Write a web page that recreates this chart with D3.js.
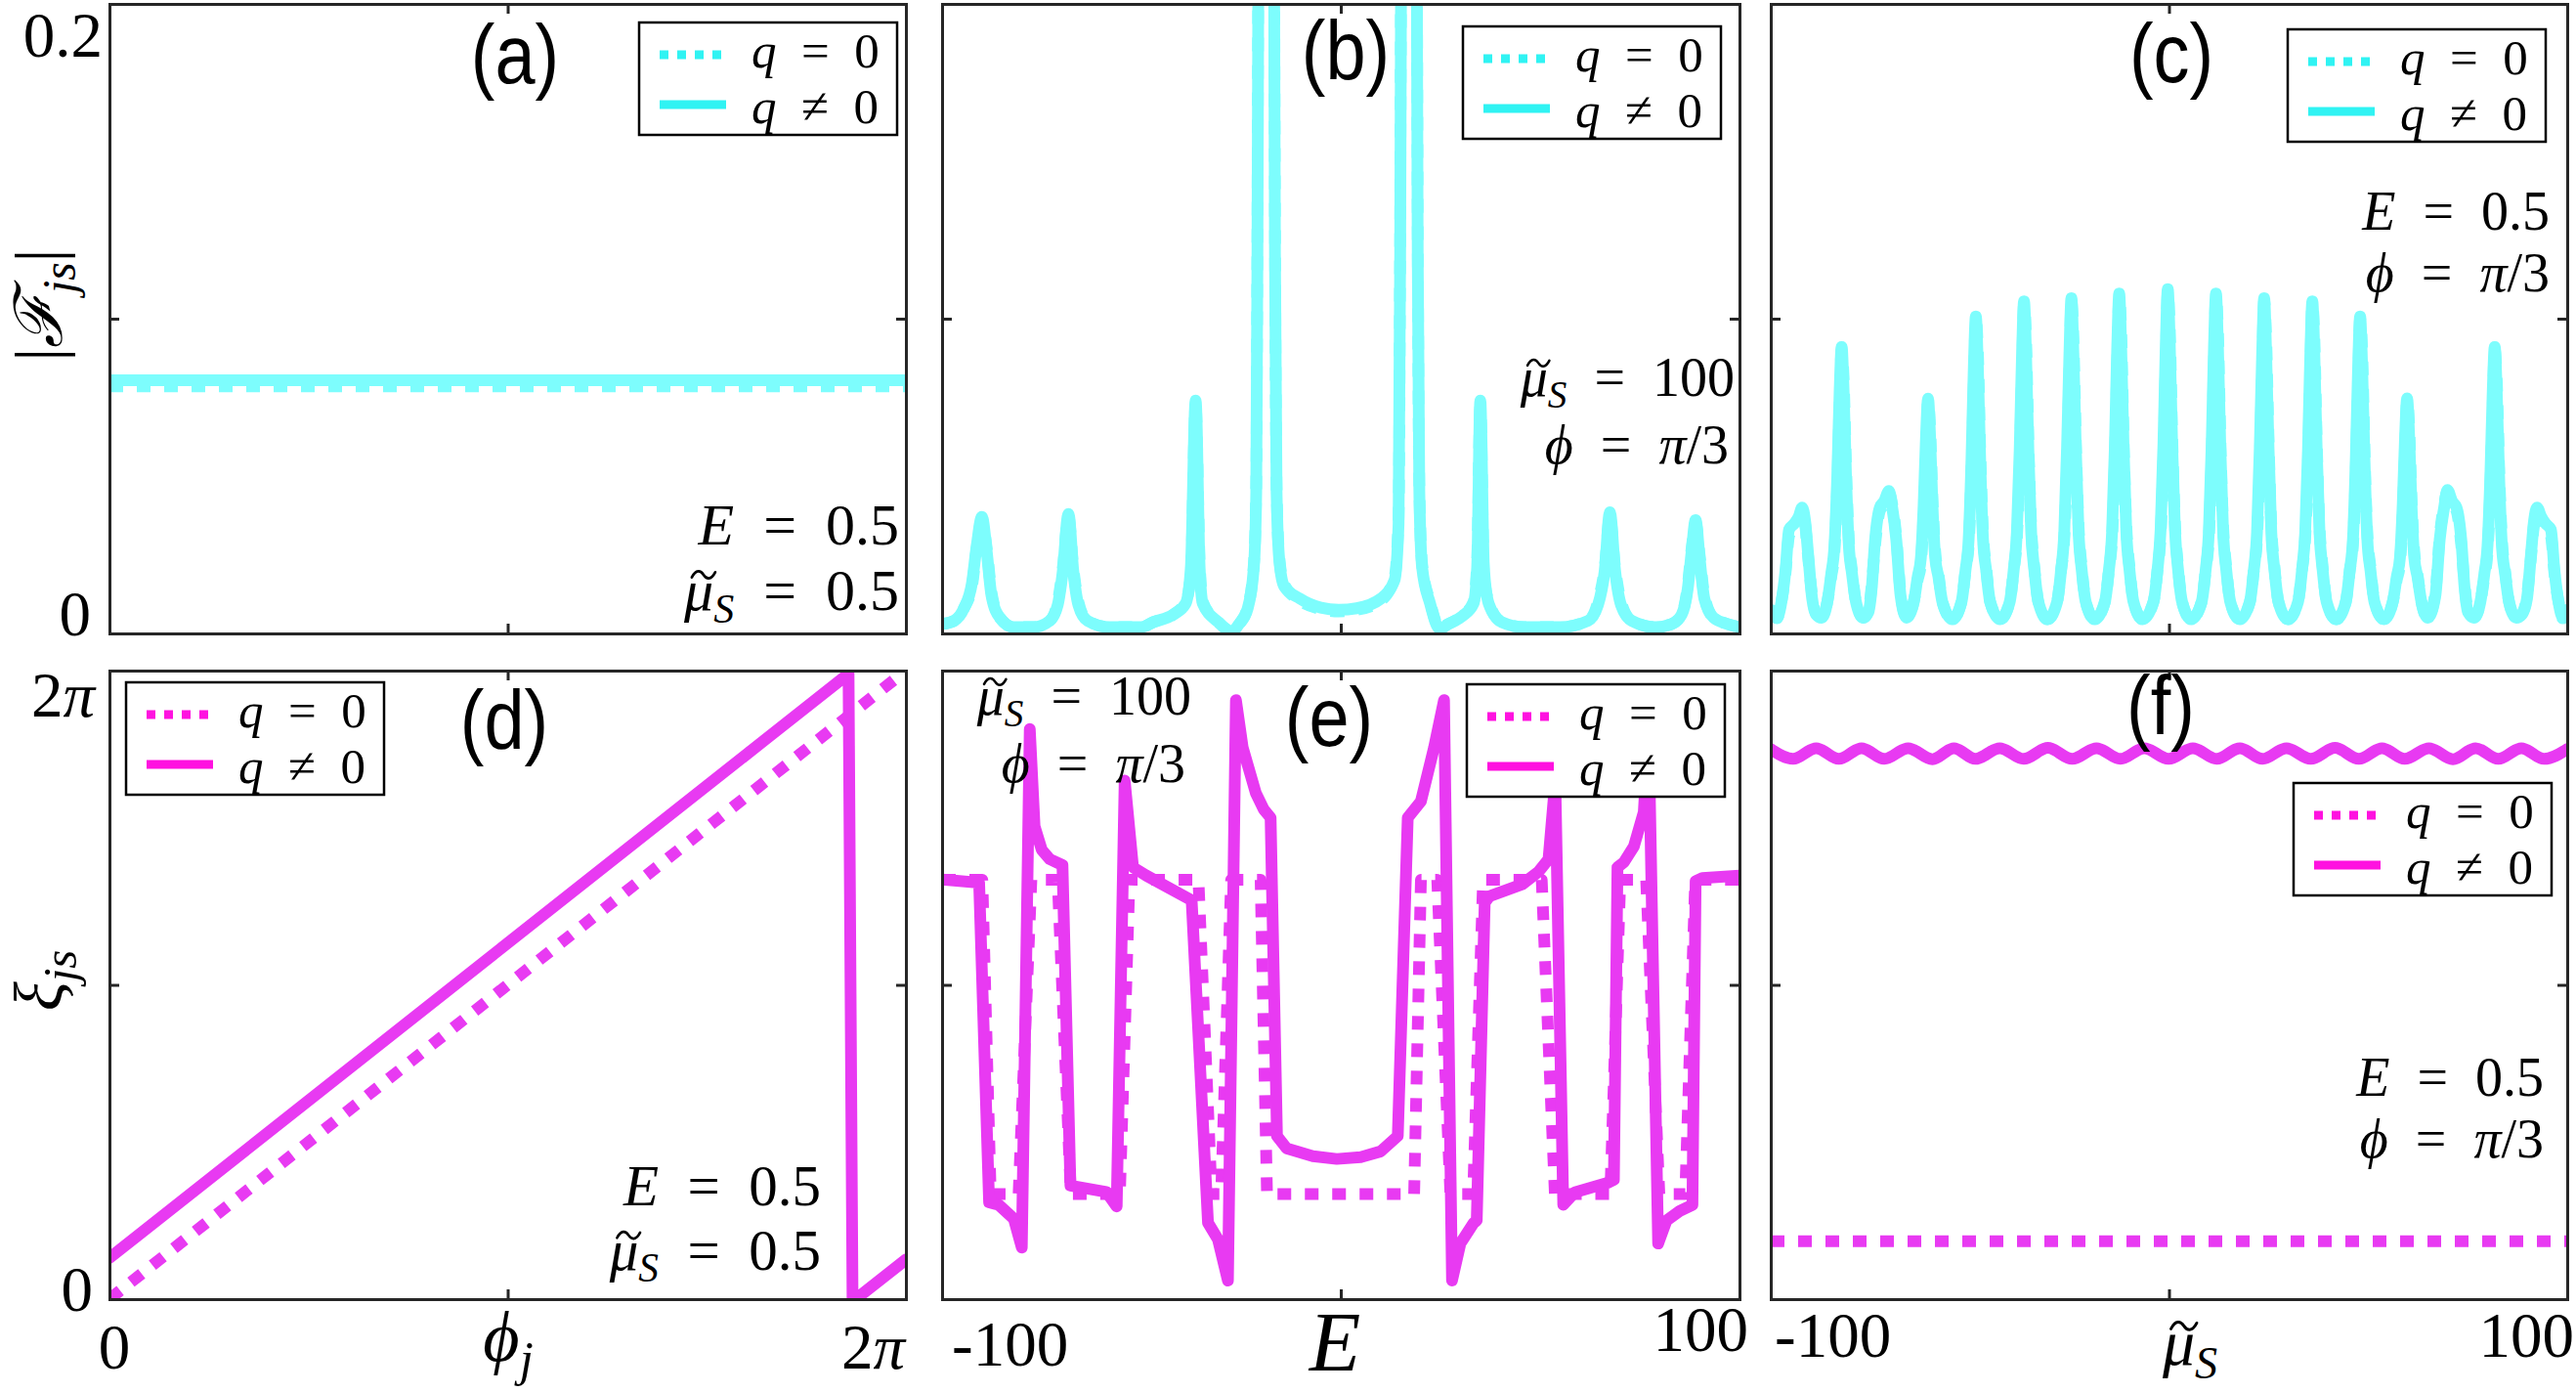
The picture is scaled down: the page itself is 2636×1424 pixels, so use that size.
<!DOCTYPE html>
<html><head><meta charset="utf-8">
<script src="https://cdn.jsdelivr.net/npm/d3@7"></script>
<style>html,body{margin:0;padding:0;background:#fff}svg{display:block}</style>
</head><body>
<svg id="c" width="2636" height="1424"></svg>
<script>
// ---------------- DATA ----------------
// (a) |F_js| vs phi_j (phi in units of pi)
const phiA = [0, 2];
const fA_q0 = [0.0785, 0.0785];
const fA_q  = [0.0804, 0.0804];

// (b) |F_js| vs E
const EB = [-100,-97,-94.5,-92.5,-91.3,-90.0,-88.8,-87.6,-85.5,-82,
  -77,-73,-71,-69.7,-68.3,-67.1,-65.8,-63.5,-58,-50,
  -47,-42,-38.9,-37.6,-36.4,-35.4,-34.6,-30.7,-27.4,-25.5,
  -23.4,-21.8,-21.2,-20.9,-20.7,-20.4,-18.7,-17.0,-16.7,-16.5,
  -16.1,-15.4,-14.2,-10.3,-5,-0.5,4,10.1,13.5,14.5,
  14.9,15.1,15.4,17.1,18.8,19.1,19.3,19.7,20.4,22.4,
  24.8,27,30.5,33.3,34.2,35.0,35.9,37.1,40.4,46,
  55,62,64.5,66.2,67.5,68.8,70.3,73,79,83,
  85.5,87.0,88.0,89.0,90.0,91.2,93.5,97,100];
const fB_q = [0.003,0.004,0.008,0.016,0.028,0.037,0.026,0.012,0.005,0.002,
  0.002,0.004,0.009,0.020,0.038,0.020,0.009,0.004,0.002,0.002,
  0.0036,0.006,0.0095,0.021,0.074,0.021,0.0095,0.0036,0.0005,0.003,
  0.0077,0.021,0.045,0.12,0.2,0.35,0.6,0.35,0.2,0.12,
  0.045,0.023,0.015,0.0111,0.0082,0.0075,0.008,0.0111,0.017,0.035,
  0.12,0.2,0.35,0.6,0.35,0.2,0.12,0.045,0.021,0.0095,
  0.0015,0.003,0.0055,0.0095,0.021,0.074,0.021,0.0095,0.0036,0.002,
  0.002,0.004,0.009,0.020,0.0385,0.020,0.009,0.004,0.002,0.003,
  0.006,0.014,0.026,0.036,0.024,0.011,0.005,0.003,0.002];
const fB_q0 = [0.003,0.004,0.008,0.015,0.027,0.036,0.027,0.013,0.005,0.002,
  0.002,0.004,0.010,0.021,0.037,0.021,0.010,0.004,0.002,0.002,
  0.0036,0.006,0.0100,0.019,0.072,0.023,0.0100,0.0036,0.0008,0.003,
  0.0080,0.022,0.047,0.13,0.21,0.35,0.6,0.35,0.21,0.13,
  0.047,0.024,0.0155,0.0105,0.0077,0.0070,0.0075,0.0105,0.018,0.037,
  0.13,0.21,0.35,0.6,0.35,0.21,0.13,0.047,0.022,0.0100,
  0.0018,0.003,0.0057,0.0100,0.023,0.072,0.019,0.0100,0.0036,0.002,
  0.002,0.004,0.010,0.021,0.0370,0.021,0.010,0.004,0.002,0.003,
  0.006,0.015,0.027,0.035,0.025,0.012,0.005,0.003,0.002];

// (c) |F_js| vs mu_S
const muC = [
  -100,-98.4,-97.5,-96.3,-95.4,-94.0,-93.0,-92.1,-91.4,-90.6,-89.6,-88.6,
  -87.2,-85.8,-84.8,-84.0,-83.3,-82.7,-82.2,-81.7,-81.1,-80.4,-79.6,-78.6,-76.8,
  -75.5,-74.6,-73.8,-72.6,-71.5,-70.3,-69.5,-68.5,-67.4,-65.9,
  -64.1,-63.1,-62.3,-61.6,-61.0,-60.5,-60.0,-59.4,-58.7,-57.9,-56.9,-54.4,
  -52.1,-51.1,-50.3,-49.6,-49.0,-48.5,-48.0,-47.4,-46.7,-45.9,-44.9,-42.4,
  -40.0,-39.0,-38.2,-37.5,-36.9,-36.4,-35.9,-35.3,-34.6,-33.8,-32.8,-30.5,
  -28.1,-27.1,-26.3,-25.6,-25.0,-24.5,-24.0,-23.4,-22.7,-21.9,-20.9,-18.6,
  -16.1,-15.1,-14.3,-13.6,-13.0,-12.5,-12.0,-11.4,-10.7,-9.9,-8.9,-6.6,
  -3.9,-2.9,-2.1,-1.4,-0.8,-0.3,0.2,0.8,1.5,2.3,3.3,5.6,
  8.2,9.2,10.0,10.7,11.3,11.8,12.3,12.9,13.6,14.4,15.4,17.8,
  20.3,21.3,22.1,22.8,23.4,23.9,24.4,25.0,25.7,26.5,27.5,29.9,
  32.4,33.4,34.2,34.9,35.5,36.0,36.5,37.1,37.8,38.6,39.6,42.0,
  44.4,45.4,46.2,46.9,47.5,48.0,48.5,49.1,49.8,50.6,51.6,54.0,
  56.2,57.2,58.0,58.7,59.3,59.8,60.3,60.9,61.6,62.4,63.4,65.0,
  66.9,68.0,69.1,69.9,71.1,72.2,73.4,74.2,75.1,76.6,
  78.2,79.2,80.0,80.7,81.3,81.8,82.3,82.9,83.6,84.4,85.4,87.2,
  88.6,89.9,90.9,91.7,92.4,93.5,94.5,95.9,96.8,98.0,98.9,100];
const fC_q = [
  0.0075,0.005,0.0087,0.020,0.033,0.035,0.037,0.040,0.036,0.025,0.011,0.006,
  0.005,0.010,0.019,0.028,0.050,0.077,0.091,0.077,0.050,0.028,0.019,0.010,0.005,
  0.0067,0.015,0.0297,0.040,0.042,0.0453,0.040,0.030,0.012,0.005,
  0.010,0.018,0.024,0.041,0.063,0.0746,0.063,0.041,0.024,0.018,0.010,0.0045,
  0.010,0.020,0.030,0.055,0.085,0.1007,0.085,0.055,0.030,0.020,0.010,0.0045,
  0.010,0.020,0.032,0.058,0.089,0.1055,0.089,0.058,0.032,0.020,0.010,0.0045,
  0.010,0.020,0.032,0.059,0.089,0.1065,0.089,0.059,0.032,0.020,0.010,0.0045,
  0.010,0.020,0.032,0.059,0.091,0.1080,0.091,0.059,0.032,0.020,0.010,0.0045,
  0.010,0.020,0.033,0.060,0.092,0.1094,0.092,0.060,0.033,0.020,0.010,0.0045,
  0.010,0.020,0.032,0.059,0.091,0.1080,0.091,0.059,0.032,0.020,0.010,0.0045,
  0.010,0.020,0.032,0.059,0.089,0.1065,0.089,0.059,0.032,0.020,0.010,0.0045,
  0.010,0.020,0.032,0.058,0.089,0.1055,0.089,0.058,0.032,0.020,0.010,0.0045,
  0.010,0.020,0.030,0.055,0.085,0.1007,0.085,0.055,0.030,0.020,0.010,0.0045,
  0.010,0.018,0.024,0.041,0.063,0.0747,0.063,0.041,0.024,0.018,0.010,0.005,
  0.012,0.030,0.040,0.0456,0.042,0.040,0.0297,0.015,0.0067,0.005,
  0.010,0.019,0.028,0.050,0.077,0.091,0.077,0.050,0.028,0.019,0.010,0.005,
  0.006,0.011,0.025,0.036,0.040,0.037,0.035,0.033,0.020,0.0087,0.005,0.0075];
const fC_q0 = [
  0.0072,0.0048,0.0090,0.019,0.031,0.034,0.036,0.039,0.035,0.024,0.012,0.0062,
  0.005,0.010,0.018,0.026,0.046,0.072,0.090,0.081,0.053,0.030,0.020,0.010,0.005,
  0.0070,0.016,0.028,0.039,0.041,0.0445,0.041,0.031,0.013,0.0052,
  0.010,0.017,0.022,0.038,0.058,0.0738,0.066,0.043,0.026,0.019,0.010,0.0045,
  0.010,0.020,0.028,0.051,0.079,0.0997,0.090,0.058,0.032,0.021,0.010,0.0045,
  0.010,0.020,0.030,0.053,0.083,0.1045,0.094,0.061,0.034,0.021,0.010,0.0045,
  0.010,0.020,0.030,0.054,0.083,0.1055,0.094,0.062,0.034,0.021,0.010,0.0045,
  0.010,0.020,0.030,0.054,0.085,0.1070,0.096,0.062,0.034,0.021,0.010,0.0045,
  0.010,0.020,0.031,0.055,0.086,0.1084,0.097,0.063,0.035,0.021,0.010,0.0045,
  0.010,0.020,0.030,0.054,0.085,0.1070,0.096,0.062,0.034,0.021,0.010,0.0045,
  0.010,0.020,0.030,0.054,0.083,0.1055,0.094,0.062,0.034,0.021,0.010,0.0045,
  0.010,0.020,0.030,0.053,0.083,0.1045,0.094,0.061,0.034,0.021,0.010,0.0045,
  0.010,0.020,0.028,0.051,0.079,0.0997,0.090,0.058,0.032,0.021,0.010,0.0045,
  0.010,0.017,0.022,0.038,0.058,0.0739,0.066,0.043,0.026,0.019,0.010,0.005,
  0.013,0.031,0.041,0.0448,0.041,0.039,0.028,0.016,0.0070,0.0052,
  0.010,0.018,0.026,0.046,0.072,0.090,0.081,0.053,0.030,0.020,0.010,0.005,
  0.0062,0.012,0.024,0.035,0.039,0.036,0.034,0.031,0.019,0.0090,0.0048,0.0072];

// (d) xi_js vs phi_j (both in units of pi)
const phiD_q0 = [0, 2];
const xiD_q0  = [0, 2];
const phiD_q  = [0, 1.856, 1.866, 1.874, 2];
const xiD_q   = [0.131, 1.99, 0.0, 0.0, 0.126];

// (e) xi_js vs E (xi in units of pi)
const EE_q0  = [-100,-89.9,-87.8,-80.8,-77.6,-71.0,-67.7,-55.4,-53.0,-35.7,-32.4,-30.0,-27.5,-20.1,-18.5,
  18.4,20.1,24.2,27.5,33.2,35.7,50.4,53.7,67.6,70.1,76.6,79.9,86.4,88.9,100];
const xiE_q0 = [1.334,1.334,0.334,0.334,1.334,1.334,0.334,0.334,1.334,1.334,0.334,0.334,1.334,1.334,0.334,
  0.334,1.334,1.334,0.334,0.334,1.334,1.334,0.334,0.334,1.334,1.334,0.334,0.334,1.334,1.334];
const EE_q  = [-100,-90.7,-88.2,-85.8,-82.0,-80.0,-78.0,-76.8,-75.0,-73.0,-69.8,-67.8,-58.8,-56.2,-54.2,-52.1,-48.8,-37.4,
  -33.3,-30.8,-28.3,-26.3,-24.6,-21.3,-19.3,-17.6,-16.0,-13.6,-7.0,-1.0,5.0,10.0,14.3,16.8,20.1,23.4,25.9,27.9,
  30.0,33.3,34.1,36.1,37.3,45.5,49.6,52.1,53.8,55.8,58.7,66.9,68.5,69.4,71.0,73.5,76.0,77.2,79.6,81.7,85.0,88.2,
  89.0,90.7,100];
const xiE_q = [1.335,1.325,0.308,0.300,0.256,0.164,1.814,1.505,1.430,1.400,1.381,0.361,0.341,0.295,1.650,1.374,1.348,1.269,
  0.243,0.190,0.059,1.906,1.755,1.610,1.558,1.532,0.519,0.480,0.455,0.446,0.452,0.470,0.519,1.532,1.584,1.755,1.906,0.059,
  0.177,0.242,0.250,1.262,1.282,1.320,1.360,1.400,1.650,0.300,0.340,0.370,0.380,1.374,1.390,1.440,1.550,1.814,0.177,0.250,0.280,0.300,
  1.330,1.340,1.348];

// (f) xi_js vs mu_S
const muF_q = [-100,-94.4,-88.6,-82.9,-77.2,-71.5,-65.5,-59.4,-54.0,-48.6,-42.5,-36.5,-30.4,-24.3,-18.2,-12.2,-6.2,-0.1,
  6.0,12.0,17.8,23.5,29.5,35.6,41.7,47.7,53.5,59.2,65.3,71.3,77.0,82.7,88.5,94.2,100];
const xiF_q = [1.750,1.719,1.753,1.719,1.753,1.719,1.753,1.718,1.753,1.719,1.753,1.719,1.754,1.719,1.753,1.719,1.753,1.719,
  1.753,1.719,1.753,1.719,1.753,1.719,1.754,1.719,1.753,1.719,1.753,1.718,1.753,1.719,1.753,1.719,1.750];
const muF_q0 = [-100, 100];
const xiF_q0 = [0.184, 0.184];

// tick / label texts
const panelLabels = ['(a)','(b)','(c)','(d)','(e)','(f)'];
const yTickTop = ['0', '0.2'];
const yTickBot = ['0', '2π'];
const xTickD = ['0', '2π'];
const xTickE = ['-100', '100'];
const legendTexts = [['q', '=', '0'], ['q', '≠', '0']];

// ---------------- DRAWING ----------------
const svg = d3.select('#c');
const SERIF = '"Liberation Serif","Times New Roman","DejaVu Serif",serif';
const SANS = '"Liberation Sans",Arial,Helvetica,sans-serif';
const CY = '#7DFDFD', CYL = '#30F3F3', MG = '#E83AF2', MGL = '#FF12E0';
const FRAME = '#262626';
const LW = 12;

const cols = [[112, 927], [964, 1780], [1812, 2627]];
const rows = [[4, 648], [686, 1329]];

let clipId = 0;
function makePanel(col, row, xd, yd) {
  const xr = cols[col], yr = rows[row];
  const x = d3.scaleLinear().domain(xd).range(xr);
  const y = d3.scaleLinear().domain(yd).range([yr[1], yr[0]]);
  const id = 'clip' + (clipId++);
  svg.append('clipPath').attr('id', id).append('rect')
    .attr('x', xr[0]).attr('y', yr[0]).attr('width', xr[1] - xr[0]).attr('height', yr[1] - yr[0]);
  const g = svg.append('g');
  const plot = g.append('g').attr('clip-path', `url(#${id})`);
  return {x, y, g, plot, xr, yr};
}

function frame(p, xm, ym) {
  const mk = (axis, tx, ty) => {
    const a = p.g.append('g').attr('transform', `translate(${tx},${ty})`).call(axis);
    a.selectAll('text').remove();
    a.selectAll('path.domain').attr('stroke', FRAME).attr('stroke-width', 3).attr('stroke-linecap', 'square');
    a.selectAll('line').attr('stroke', FRAME).attr('stroke-width', 3);
  };
  mk(d3.axisBottom(p.x).tickValues([xm]).tickSize(-10).tickSizeOuter(0).tickFormat(''), 0, p.yr[1]);
  mk(d3.axisTop(p.x).tickValues([xm]).tickSize(-10).tickSizeOuter(0).tickFormat(''), 0, p.yr[0]);
  mk(d3.axisLeft(p.y).tickValues([ym]).tickSize(-10).tickSizeOuter(0).tickFormat(''), p.xr[0], 0);
  mk(d3.axisRight(p.y).tickValues([ym]).tickSize(-10).tickSizeOuter(0).tickFormat(''), p.xr[1], 0);
}

function series(p, xs, ys, color, dotted, curve) {
  const pts = xs.map((v, i) => [v, ys[i]]);
  const line = d3.line().x(d => p.x(d[0])).y(d => p.y(d[1])).curve(curve || d3.curveLinear);
  p.plot.append('path').attr('d', line(pts)).attr('fill', 'none')
    .attr('stroke', color).attr('stroke-width', LW)
    .attr('stroke-linejoin', 'round')
    .attr('stroke-linecap', dotted ? 'butt' : 'round')
    .attr('stroke-dasharray', dotted ? '14 14' : null);
}

// math-like text; lines: [[parts, yOffset, xOffset], ...]; part: [string, style]
// style: 'r' roman, 'i' italic, 's' italic subscript, 't' italic with tilde accent
function mtext(parent, x, y, lines, opt) {
  opt = opt || {};
  const size = opt.size || 62, anchor = opt.anchor || 'end';
  const g = parent.append('g').attr('transform', `translate(${x},${y})` + (opt.rotate ? ` rotate(${opt.rotate})` : ''));
  const t = g.append('text').attr('font-family', SERIF).attr('font-size', size)
    .attr('text-anchor', anchor).attr('fill', '#000');
  const tildes = [];
  let ci = 0;
  lines.forEach(([parts, ly, lx]) => {
    let shift = 0, first = true;
    parts.forEach(([s, st]) => {
      const ts = t.append('tspan').text(s);
      if (first) { ts.attr('x', lx || 0).attr('y', ly); first = false; }
      const isSub = st === 's';
      const target = isSub ? size * 0.21 : 0;
      if (target !== shift) { ts.attr('dy', target - shift); shift = target; }
      if (st !== 'r') ts.attr('font-style', 'italic');
      if (isSub) ts.attr('font-size', size * 0.7);
      if (st === 't') tildes.push({ci, ly});
      ci += s.length;
    });
  });
  // tilde accents drawn as small strokes above the accented glyph
  tildes.forEach(({ci, ly}) => {
    const ext = t.node().getExtentOfChar(ci);
    const cx = ext.x + ext.width / 2 + size * 0.08;
    const cy = ly - size * 0.60;
    const w = size * 0.40, h = size * 0.075;
    const p = d3.path();
    p.moveTo(cx - w / 2, cy + h * 0.6);
    p.bezierCurveTo(cx - w * 0.32, cy - h * 1.3, cx - w * 0.12, cy - h * 1.0, cx, cy);
    p.bezierCurveTo(cx + w * 0.12, cy + h * 1.0, cx + w * 0.32, cy + h * 1.3, cx + w / 2, cy - h * 0.6);
    g.append('path').attr('d', p.toString()).attr('fill', 'none').attr('stroke', '#000')
      .attr('stroke-width', size * 0.045).attr('stroke-linecap', 'round');
  });
  return t;
}
const L = parts => [[parts, 0]];
const SP = '\u2002';
const eqE = [['E', 'i'], [SP + '=' + SP, 'r'], ['0.5', 'r']];
const eqMu05 = [['\u03BC', 't'], ['S', 's'], [SP + '=' + SP, 'r'], ['0.5', 'r']];
const eqMu100 = [['\u03BC', 't'], ['S', 's'], [SP + '=' + SP, 'r'], ['100', 'r']];
const eqPhi = [['\u03D5', 'i'], [SP + '=' + SP, 'r'], ['π', 'i'], ['/3', 'r']];

function legend(p, bx, by, color) {
  const g = p.g.append('g');
  g.append('rect').attr('x', bx).attr('y', by).attr('width', 264).attr('height', 115)
    .attr('fill', '#fff').attr('stroke', '#000').attr('stroke-width', 2.5);
  g.append('line').attr('x1', bx + 21).attr('x2', bx + 85).attr('y1', by + 33).attr('y2', by + 33)
    .attr('stroke', color).attr('stroke-width', 9).attr('stroke-dasharray', '9 9');
  g.append('line').attr('x1', bx + 21).attr('x2', bx + 89).attr('y1', by + 84).attr('y2', by + 84)
    .attr('stroke', color).attr('stroke-width', 9);
  mtext(g, bx + 115, by + 46, legendTexts.map((lt, i) =>
    [[[lt[0], 'i'], [SP + lt[1] + SP, 'r'], [lt[2], 'r']], i ? 57 : 0]), {size: 51, anchor: 'start'});
}

function panelLabel(p, text, cx, by) {
  p.g.append('text').attr('transform', `translate(${cx},${by}) scale(0.86,1)`)
    .attr('text-anchor', 'middle').attr('font-family', SANS).attr('font-size', 86).text(text);
}

const mono = d3.curveMonotoneX;

// (a)
const pa = makePanel(0, 0, [0, 2], [0, 0.2]);
series(pa, phiA, fA_q0, CY, true);
series(pa, phiA, fA_q, CY, false);
frame(pa, 1, 0.1);
legend(pa, 654, 23, CYL);
panelLabel(pa, panelLabels[0], 527, 85);
mtext(pa.g, 920, 557, [[eqE, 0], [eqMu05, 67]], {size: 60});

// (b)
const pb = makePanel(1, 0, [-100, 100], [0, 0.2]);
series(pb, EB, fB_q0, CY, true, mono);
series(pb, EB, fB_q, CY, false, mono);
frame(pb, 0, 0.1);
legend(pb, 1497, 27, CYL);
panelLabel(pb, panelLabels[1], 1377, 81);
mtext(pb.g, 1775, 405, [[eqMu100, 0], [eqPhi, 69, -6]], {size: 56});

// (c)
const pc = makePanel(2, 0, [-100, 100], [0, 0.2]);
series(pc, muC, fC_q0, CY, true, mono);
series(pc, muC, fC_q, CY, false, mono);
frame(pc, 0, 0.1);
legend(pc, 2341, 30, CYL);
panelLabel(pc, panelLabels[2], 2222, 84);
mtext(pc.g, 2609, 235, [[eqE, 0], [eqPhi, 63]], {size: 56});

// (d)
const pd = makePanel(0, 1, [0, 2], [0, 2]);
series(pd, phiD_q0, xiD_q0, MG, true);
series(pd, phiD_q, xiD_q, MG, false);
frame(pd, 1, 1);
legend(pd, 129, 698, MGL);
panelLabel(pd, panelLabels[3], 516, 766);
mtext(pd.g, 840, 1233, [[eqE, 0], [eqMu05, 66]], {size: 59});

// (e)
const pe = makePanel(1, 1, [-100, 100], [0, 2]);
series(pe, EE_q0, xiE_q0, MG, true);
series(pe, EE_q, xiE_q, MG, false);
frame(pe, 0, 1);
legend(pe, 1501, 700, MGL);
panelLabel(pe, panelLabels[4], 1360, 763);
mtext(pe.g, 1219, 731, [[eqMu100, 0], [eqPhi, 69, -6]], {size: 56});

// (f)
const pf = makePanel(2, 1, [-100, 100], [0, 2]);
series(pf, muF_q0, xiF_q0, MG, true);
series(pf, muF_q, xiF_q, MG, false, mono);
frame(pf, 0, 1);
legend(pf, 2347, 801, MGL);
panelLabel(pf, panelLabels[5], 2211, 751);
mtext(pf.g, 2603, 1121, [[eqE, 0], [eqPhi, 63]], {size: 56});

// y tick labels
const TS = 65;
mtext(svg, 105, 58, L([[yTickTop[1], 'r']]), {size: TS});
mtext(svg, 93, 650, L([[yTickTop[0], 'r']]), {size: TS});
mtext(svg, 97, 733, L([['2', 'r'], ['π', 'i']]), {size: TS});
mtext(svg, 95, 1341, L([[yTickBot[0], 'r']]), {size: TS});
// x tick labels
mtext(svg, 117, 1400, L([[xTickD[0], 'r']]), {anchor: 'middle', size: TS});
mtext(svg, 926, 1400, L([['2', 'r'], ['π', 'i']]), {size: TS});
mtext(svg, 974, 1397, L([[xTickE[0], 'r']]), {anchor: 'start', size: TS});
mtext(svg, 1789, 1382, L([[xTickE[1], 'r']]), {size: TS});
mtext(svg, 1816, 1388, L([[xTickE[0], 'r']]), {anchor: 'start', size: TS});
mtext(svg, 2634, 1388, L([[xTickE[1], 'r']]), {size: TS});
// axis labels
mtext(svg, 520, 1392, L([['\u03D5', 'i'], ['j', 's']]), {anchor: 'middle', size: 72});
mtext(svg, 1366, 1402, L([['E', 'i']]), {anchor: 'middle', size: 86});
mtext(svg, 2241, 1396, L([['\u03BC', 't'], ['S', 's']]), {anchor: 'middle', size: 66});
mtext(svg, 63, 312, L([['|', 'r'], ['\u2131', 'i'], ['js', 's'], ['|', 'r']]), {anchor: 'middle', size: 68, rotate: -90});
mtext(svg, 63, 1003, L([['\u03BE', 'i'], ['js', 's']]), {anchor: 'middle', size: 70, rotate: -90});
</script>
</body></html>
